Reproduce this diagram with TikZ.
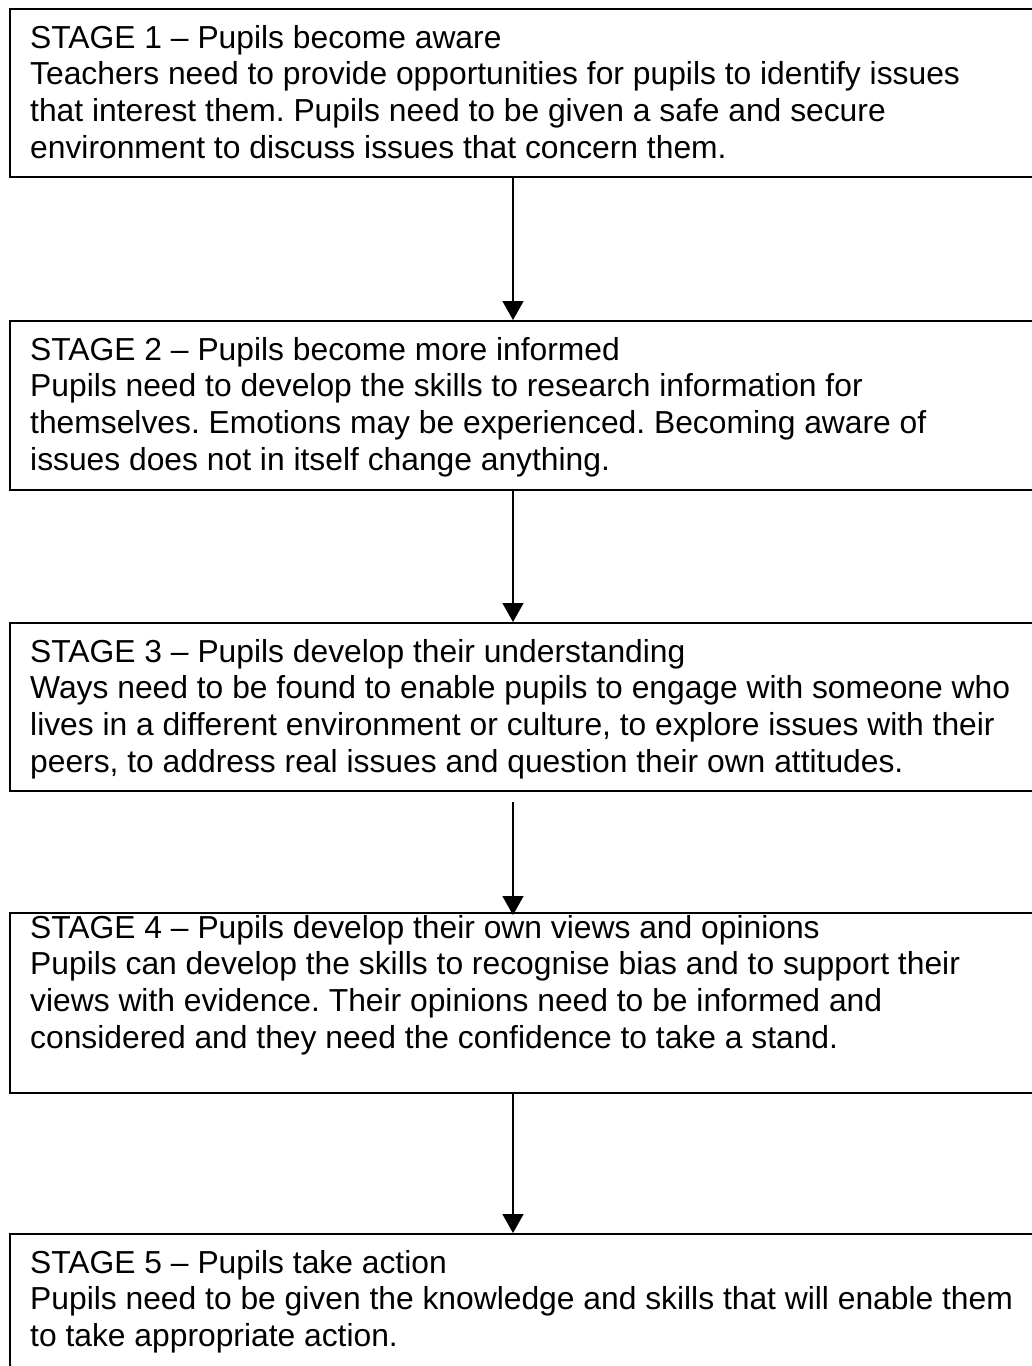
\documentclass[tikz,border=0pt]{standalone}
\usepackage{fontspec}
\setmainfont{Liberation Sans}
\usetikzlibrary{arrows.meta}
\frenchspacing
\tikzset{
  frame/.style={draw=black, line width=2pt, rectangle, anchor=north west, inner sep=0pt, minimum width=1040pt},
  txt/.style={anchor=north west, inner sep=0pt, align=left, font=\fontsize{31.8}{36.6}\selectfont\frenchspacing},
  arr/.style={draw=black, line width=1.5pt, -{Triangle[width=21pt,length=19pt]}}
}
\begin{document}
\begin{tikzpicture}[x=1pt,y=-1pt]
\path[use as bounding box, clip] (0,0) rectangle (1032,1366);
\fill[white] (0,0) rectangle (1032,1366);
\node[frame, minimum height=168pt] (s1) at (9,8) {};
\node[frame, minimum height=169pt] (s2) at (9,320) {};
\node[frame, minimum height=168pt] (s3) at (9,622) {};
\node[frame, minimum height=180pt] (s4) at (9,912) {};
\node[frame, minimum height=170pt] (s5) at (9,1233) {};
\node[txt] (t1) at ([xshift=21pt,yshift=-17pt]s1.north west) {STAGE 1 – Pupils become aware\\Teachers need to provide opportunities for pupils to identify issues\\that interest them. Pupils need to be given a safe and secure\\environment to discuss issues that concern them.};
\node[txt] (t2) at ([xshift=21pt,yshift=-17pt]s2.north west) {STAGE 2 – Pupils become more informed\\Pupils need to develop the skills to research information for\\themselves. Emotions may be experienced. Becoming aware of\\issues does not in itself change anything.};
\node[txt] (t3) at ([xshift=21pt,yshift=-17pt]s3.north west) {STAGE 3 – Pupils develop their understanding\\Ways need to be found to enable pupils to engage with someone who\\lives in a different environment or culture, to explore issues with their\\peers, to address real issues and question their own attitudes.};
\node[txt] (t4) at ([xshift=21pt,yshift=-3pt]s4.north west) {STAGE 4 – Pupils develop their own views and opinions\\Pupils can develop the skills to recognise bias and to support their\\views with evidence. Their opinions need to be informed and\\considered and they need the confidence to take a stand.};
\node[txt] (t5) at ([xshift=21pt,yshift=-17pt]s5.north west) {STAGE 5 – Pupils take action\\Pupils need to be given the knowledge and skills that will enable them\\to take appropriate action.};
\draw[arr] ([xshift=504pt]s1.south west) -- ([xshift=504pt]s2.north west);
\draw[arr] ([xshift=504pt]s2.south west) -- ([xshift=504pt]s3.north west);
\draw[arr] ([xshift=504pt,yshift=-10pt]s3.south west) -- ([xshift=504pt,yshift=-3pt]s4.north west);
\draw[arr] ([xshift=504pt]s4.south west) -- ([xshift=504pt]s5.north west);
\end{tikzpicture}
\end{document}
